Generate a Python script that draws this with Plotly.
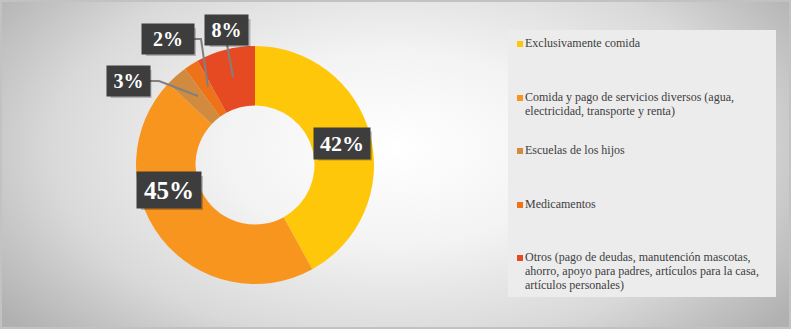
import plotly.graph_objects as go

# ---- data ----
labels = [
    "Exclusivamente comida",
    "Comida y pago de servicios diversos (agua,<br>electricidad, transporte y renta)",
    "Escuelas de los hijos",
    "Medicamentos",
    "Otros (pago de deudas, manutención mascotas,<br>ahorro, apoyo para padres, artículos para la casa,<br>artículos personales)",
]
values = [42, 45, 3, 2, 8]
colors = ["#FFC709", "#F7951F", "#D18B3F", "#EE7218", "#E54A23"]

W, H = 791, 329
SERIF = "Liberation Serif, Times New Roman, DejaVu Serif, serif"


def px(x):
    return x / W


def py(y):
    return 1 - y / H


fig = go.Figure()

# background radial gradient (hidden cartesian axes)
fig.add_trace(go.Scatter(
    x=[-0.12, 1.12, 1.12, -0.12, -0.12], y=[-0.3, -0.3, 1.4, 1.4, -0.3],
    mode="lines", line=dict(width=0), fill="toself",
    fillgradient=dict(type="radial",
                      colorscale=[[0, "#ffffff"], [0.35, "#f3f3f3"], [0.7, "#d9d9d9"], [1, "#b0b0b0"]]),
    hoverinfo="skip", showlegend=False,
))

fig.add_trace(go.Pie(
    labels=[l.replace("<br>", " ") for l in labels], values=values,
    marker=dict(colors=colors, line=dict(width=0)),
    hole=0.5, sort=False, direction="clockwise", rotation=0,
    textinfo="none", showlegend=False,
    domain=dict(x=[px(136), px(374)], y=[py(284), py(46)]),
))

shapes = []
annotations = []

# legend box
shapes.append(dict(type="rect", xref="paper", yref="paper",
                   x0=px(508), x1=px(776), y0=py(297), y1=py(30),
                   fillcolor="#ececec", line=dict(width=0), layer="above"))

# legend entries (one annotation per text line for tight line spacing)
legend_y = [43, 97, 150, 204, 257]
LINE = 13.8
for lab, col, y in zip(labels, colors, legend_y):
    shapes.append(dict(type="rect", xref="paper", yref="paper",
                       x0=px(517), x1=px(523), y0=py(y + 4), y1=py(y - 2),
                       fillcolor=col, line=dict(width=0), layer="above"))
    for i, line in enumerate(lab.split("<br>")):
        annotations.append(dict(xref="paper", yref="paper", x=px(523), y=py(y + i * LINE),
                                xanchor="left", yanchor="middle", align="left",
                                text=line, showarrow=False,
                                font=dict(family=SERIF, size=12, color="#404040")))

# data label boxes (cx, cy, w, h, font size)
boxes = [
    (342, 143, 54, 29, 22),
    (169, 190, 62, 34, 25),
    (128, 81, 41, 28, 20),
    (168, 39, 50, 28, 20),
    (227, 30, 41, 28, 20),
]
# leader lines (3%, 2%, 8%)
leaders = [
    "M {} {} L {} {} L {} {}".format(px(149), py(81), px(159), py(81), px(198), py(96)),
    "M {} {} L {} {} L {} {}".format(px(193), py(39), px(201), py(39), px(208), py(87)),
    "M {} {} L {} {}".format(px(227), py(44), px(233), py(77)),
]
for path in leaders:
    shapes.append(dict(type="path", xref="paper", yref="paper", path=path,
                       line=dict(color="#808080", width=2), layer="above"))

for v, (cx, cy, w, h, fs) in zip(values, boxes):
    shapes.append(dict(type="rect", xref="paper", yref="paper",
                       x0=px(cx - w / 2 + 3), x1=px(cx + w / 2 + 3),
                       y0=py(cy + h / 2 + 3), y1=py(cy - h / 2 + 3),
                       fillcolor="rgba(0,0,0,0.22)", line=dict(width=0), layer="above"))
    annotations.append(dict(xref="paper", yref="paper", x=px(cx), y=py(cy),
                            xanchor="center", yanchor="middle",
                            width=w, height=h, bgcolor="#3d3d3d",
                            text=f"<b>{v}%</b>", showarrow=False,
                            font=dict(family=SERIF, size=fs, color="#ffffff")))

# outer frame
shapes.append(dict(type="rect", xref="paper", yref="paper", x0=0, x1=1, y0=0, y1=1,
                   line=dict(color="#c2c2c2", width=4), layer="above"))

fig.update_layout(
    width=W, height=H, margin=dict(l=0, r=0, t=0, b=0),
    paper_bgcolor="#e0e0e0", plot_bgcolor="rgba(0,0,0,0)",
    xaxis=dict(range=[0, 1], visible=False, fixedrange=True, domain=[0, 1]),
    yaxis=dict(range=[0, 1], visible=False, fixedrange=True, domain=[0, 1]),
    shapes=shapes, annotations=annotations, showlegend=False,
)

fig.write_html("out.html", config={"displayModeBar": False},
               post_script="document.body.style.margin='0';document.body.style.overflow='hidden';")
